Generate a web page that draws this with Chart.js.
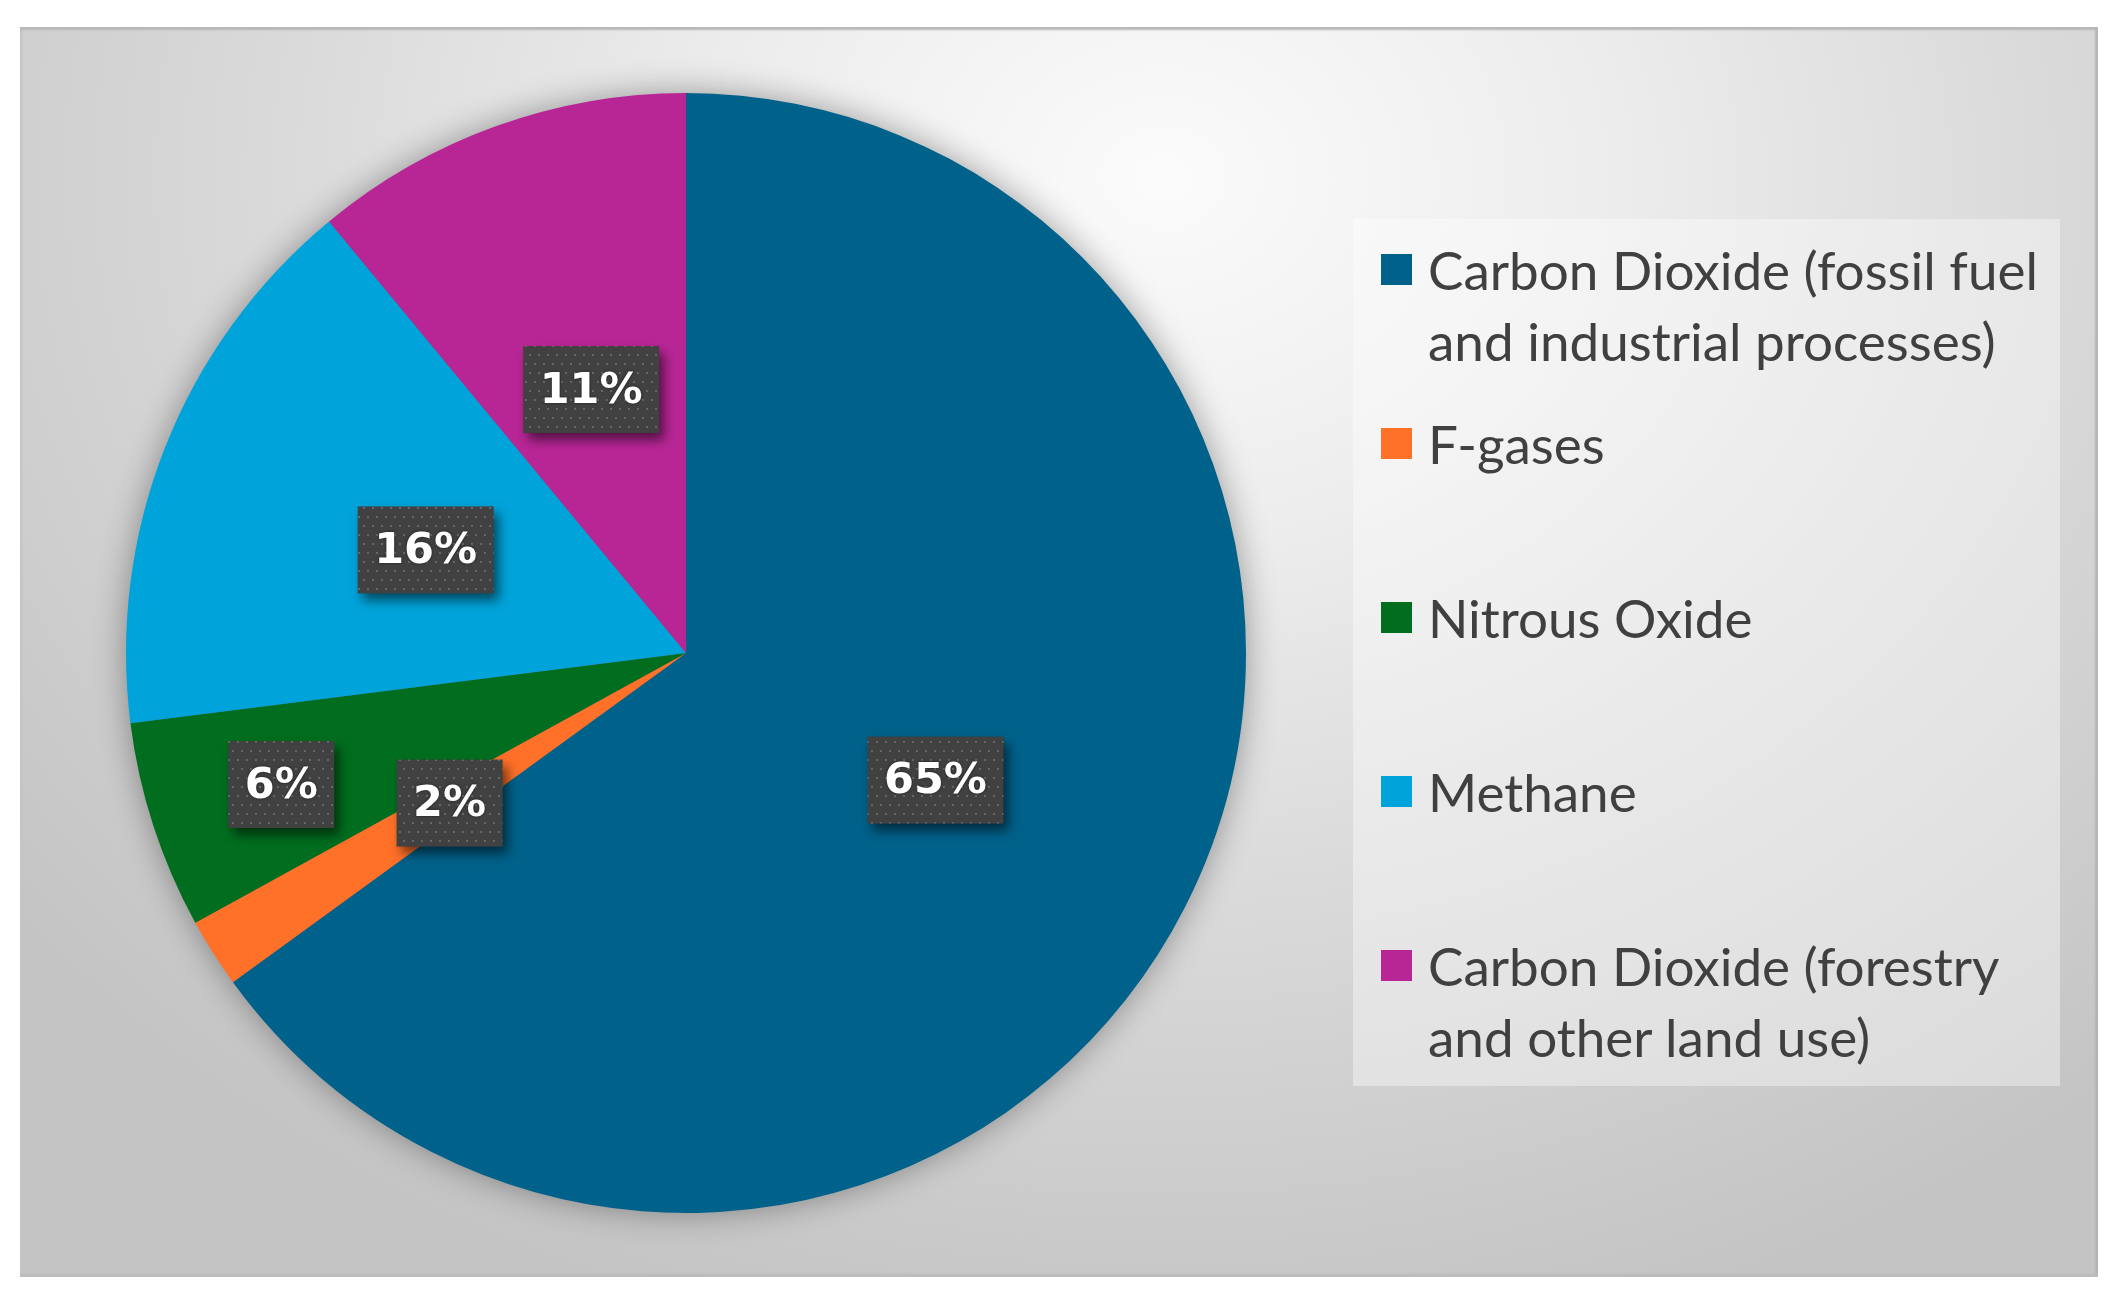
<!DOCTYPE html>
<html>
<head>
<meta charset="utf-8">
<script src="https://cdn.jsdelivr.net/npm/chart.js@4.4.1/dist/chart.umd.min.js"></script>
<style>
  body { margin:0; background:#fff; width:2121px; height:1305px; overflow:hidden; position:relative; font-family: Lato, sans-serif; }
  #marco { position:absolute; left:20px; top:27px; width:2078px; height:1250px; box-sizing:border-box;
    background: radial-gradient(ellipse 70% 95% at 55% 12%, #fbfbfb 0%, #ededed 30%, #d9d9d9 62%, #c4c4c4 100%);
    box-shadow: inset 0 4px 2px -1px #b8b8b8, inset 0 -4px 2px -1px #bcbcbc, inset 3px 0 2px -1px #c4c4c4, inset -4px 0 2px -1px #b5b5b5; }
  #grafico { position:absolute; left:0; top:0; }
  #leyenda { position:absolute; left:1353px; top:219px; width:707px; height:867px; box-sizing:border-box; padding-top:15px;
    background:rgba(255,255,255,0.38); }
  .item { position:relative; height:174px; padding-left:75px; font-size:53px; line-height:71px; color:#404040; white-space:nowrap; }
  .item .caja { position:absolute; left:28px; top:20px; width:31px; height:31px; }
</style>
</head>
<body>
<div id="marco"></div>
<canvas id="grafico" width="2121" height="1305"></canvas>
<div id="leyenda"></div>
<script>
// ==========================================
// 1. DATOS
// ==========================================
const etiquetas = [
  ['Carbon Dioxide (fossil fuel', 'and industrial processes)'],
  ['F-gases'],
  ['Nitrous Oxide'],
  ['Methane'],
  ['Carbon Dioxide (forestry', 'and other land use)']
];
const valores = [65, 2, 6, 16, 11];
const colores = ['#00618A', '#FF7028', '#006E1E', '#00A3DA', '#B82696'];

// distancia de cada etiqueta al centro (fraccion del radio)
const radioEtiqueta = [0.5, 0.5, 0.76, 0.5, 0.5];

// ==========================================
// 2. LEYENDA (HTML)
// ==========================================
const leyenda = document.getElementById('leyenda');
etiquetas.forEach((lineas, i) => {
  const div = document.createElement('div');
  div.className = 'item';
  div.innerHTML = `<span class="caja" style="background:${colores[i]}"></span>${lineas.join('<br>')}`;
  leyenda.appendChild(div);
});

// ==========================================
// 3. PLUGINS: SOMBRA DEL PASTEL Y ETIQUETAS
// ==========================================
function crearTrama(ctx) {
  const c = document.createElement('canvas');
  c.width = 18; c.height = 18;
  const t = c.getContext('2d');
  t.fillStyle = '#414141';
  t.fillRect(0, 0, 18, 18);
  t.fillStyle = '#666666';
  t.fillRect(3, 3, 2, 2);
  t.fillRect(12, 3, 2, 2);
  t.fillRect(7, 12, 2, 2);
  t.fillRect(16, 12, 2, 2);
  return ctx.createPattern(c, 'repeat');
}

const sombraPie = {
  id: 'sombraPie',
  beforeDatasetsDraw(chart) {
    const arc = chart.getDatasetMeta(0).data[0];
    const ctx = chart.ctx;
    ctx.save();
    ctx.shadowColor = 'rgba(0,0,0,0.4)';
    ctx.shadowBlur = 35;
    ctx.fillStyle = '#666';
    ctx.beginPath();
    ctx.arc(arc.x, arc.y, arc.outerRadius - 2, 0, Math.PI * 2);
    ctx.fill();
    ctx.restore();
  }
};

const etiquetasPie = {
  id: 'etiquetasPie',
  afterDatasetsDraw(chart) {
    const ctx = chart.ctx;
    const meta = chart.getDatasetMeta(0);
    const total = valores.reduce((a, b) => a + b, 0);
    const trama = crearTrama(ctx);
    ctx.save();
    ctx.font = 'bold 43px "DejaVu Sans"';
    ctx.textAlign = 'center';
    ctx.textBaseline = 'middle';
    meta.data.forEach((arc, i) => {
      const medio = (arc.startAngle + arc.endAngle) / 2;
      const r = arc.outerRadius * radioEtiqueta[i];
      const x = arc.x + Math.cos(medio) * r;
      const y = arc.y + Math.sin(medio) * r;
      const txt = Math.round(valores[i] / total * 100) + '%';
      const w = ctx.measureText(txt).width + 33;
      const h = 87;
      ctx.save();
      ctx.shadowColor = 'rgba(0,0,0,0.55)';
      ctx.shadowBlur = 12;
      ctx.shadowOffsetX = 5;
      ctx.shadowOffsetY = 7;
      ctx.fillStyle = trama;
      ctx.fillRect(x - w / 2, y - h / 2, w, h);
      ctx.restore();
      ctx.save();
      ctx.shadowColor = 'rgba(0,0,0,0.6)';
      ctx.shadowBlur = 3;
      ctx.fillStyle = '#ffffff';
      ctx.fillText(txt, x, y + 2);
      ctx.restore();
    });
    ctx.restore();
  }
};

// ==========================================
// 4. GRAFICO
// ==========================================
new Chart(document.getElementById('grafico'), {
  type: 'pie',
  data: {
    labels: etiquetas,
    datasets: [{
      data: valores,
      backgroundColor: colores,
      borderWidth: 0
    }]
  },
  options: {
    responsive: false,
    animation: false,
    layout: { padding: { left: 126, top: 93, right: 875, bottom: 92 } },
    plugins: { legend: { display: false }, tooltip: { enabled: false } }
  },
  plugins: [sombraPie, etiquetasPie]
});
</script>
</body>
</html>
